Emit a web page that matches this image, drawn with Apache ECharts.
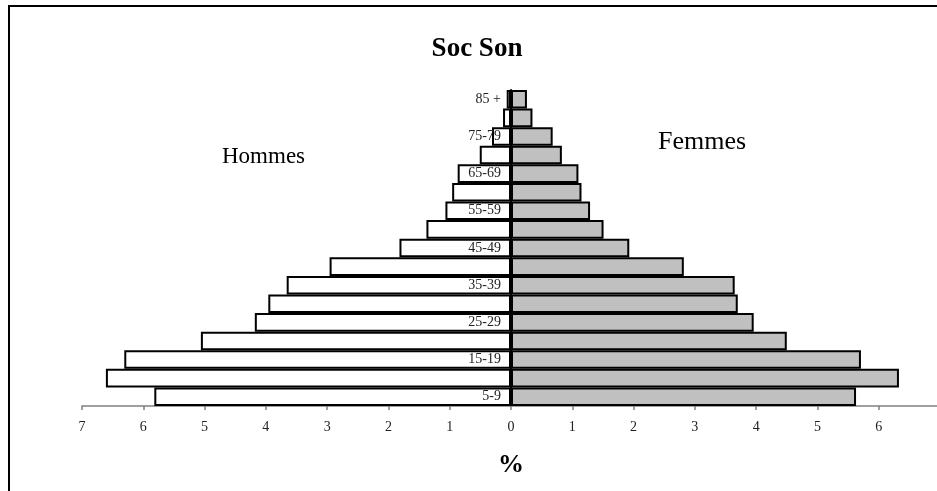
<!DOCTYPE html>
<html>
<head>
<meta charset="utf-8">
<script src="https://cdn.jsdelivr.net/npm/echarts@6/dist/echarts.min.js"></script>
<style>
  html, body { margin: 0; padding: 0; background: #fff; }
  #chart { width: 937px; height: 491px; }
</style>
</head>
<body>
<div id="chart"></div>
<script>
// Pyramide des âges — Soc Son
const ageGroups = ["5-9", "10-14", "15-19", "20-24", "25-29", "30-34", "35-39", "40-44",
  "45-49", "50-54", "55-59", "60-64", "65-69", "70-74", "75-79", "80-84", "85 +"];
const hommes = [5.82, 6.61, 6.31, 5.06, 4.18, 3.96, 3.66, 2.96, 1.82, 1.38, 1.07, 0.96, 0.87, 0.51, 0.31, 0.13, 0.07];
const femmes = [5.63, 6.33, 5.71, 4.50, 3.96, 3.70, 3.65, 2.82, 1.93, 1.51, 1.29, 1.15, 1.10, 0.83, 0.68, 0.35, 0.26];

const serif = "'Liberation Serif', 'Times New Roman', serif";
const chart = echarts.init(document.getElementById("chart"));

chart.setOption({
  animation: false,
  backgroundColor: "#fff",
  title: {
    text: "Soc Son",
    left: 472,
    textAlign: "center",
    top: 31,
    textStyle: { fontFamily: serif, fontSize: 27, fontWeight: "bold", color: "#000" },
  },
  graphic: [
    {
      type: "rect",
      shape: { x: 9, y: 6, width: 1200, height: 1000 },
      style: { fill: "none", stroke: "#000", lineWidth: 2 },
      silent: true,
    },
    {
      type: "text",
      left: 222,
      top: 145,
      style: { text: "Hommes", font: "23px " + serif, fill: "#000" },
    },
    {
      type: "text",
      left: 658,
      top: 129,
      style: { text: "Femmes", font: "26px " + serif, fill: "#000" },
    },
  ],
  grid: { left: 82, right: -3, top: 90, bottom: 85, outerBoundsMode: "none", containLabel: false },
  xAxis: {
    type: "value",
    min: -7,
    max: 7,
    interval: 1,
    name: "%",
    nameLocation: "middle",
    nameGap: 46,
    nameTextStyle: { fontFamily: serif, fontSize: 26, fontWeight: "bold", color: "#000" },
    splitLine: { show: false },
    axisLine: { show: true, onZero: false, lineStyle: { color: "#808080", width: 1.5 } },
    axisTick: { show: true, length: 4, lineStyle: { color: "#808080", width: 1.5 } },
    axisLabel: {
      margin: 14,
      fontFamily: serif,
      fontSize: 14,
      color: "#222",
      formatter: (v) => String(Math.abs(v)),
    },
  },
  yAxis: {
    type: "category",
    data: ageGroups,
    axisLine: { show: true, onZero: true, lineStyle: { color: "#000", width: 2 } },
    axisTick: { show: false },
    axisLabel: { show: false },
  },
  series: [
    {
      name: "Hommes",
      type: "bar",
      data: hommes.map((v) => -v),
      barGap: "-100%",
      barCategoryGap: 0,
      itemStyle: { color: "#fff", borderColor: "#000", borderWidth: 2 },
      label: {
        show: true,
        position: "insideRight",
        distance: 10,
        fontFamily: serif,
        fontSize: 14,
        color: "#222",
        formatter: (p) => (p.dataIndex % 2 === 0 ? p.name : ""),
      },
    },
    {
      name: "Femmes",
      type: "bar",
      data: femmes,
      barGap: "-100%",
      barCategoryGap: 0,
      itemStyle: { color: "#c0c0c0", borderColor: "#000", borderWidth: 2 },
    },
  ],
});
</script>
</body>
</html>
